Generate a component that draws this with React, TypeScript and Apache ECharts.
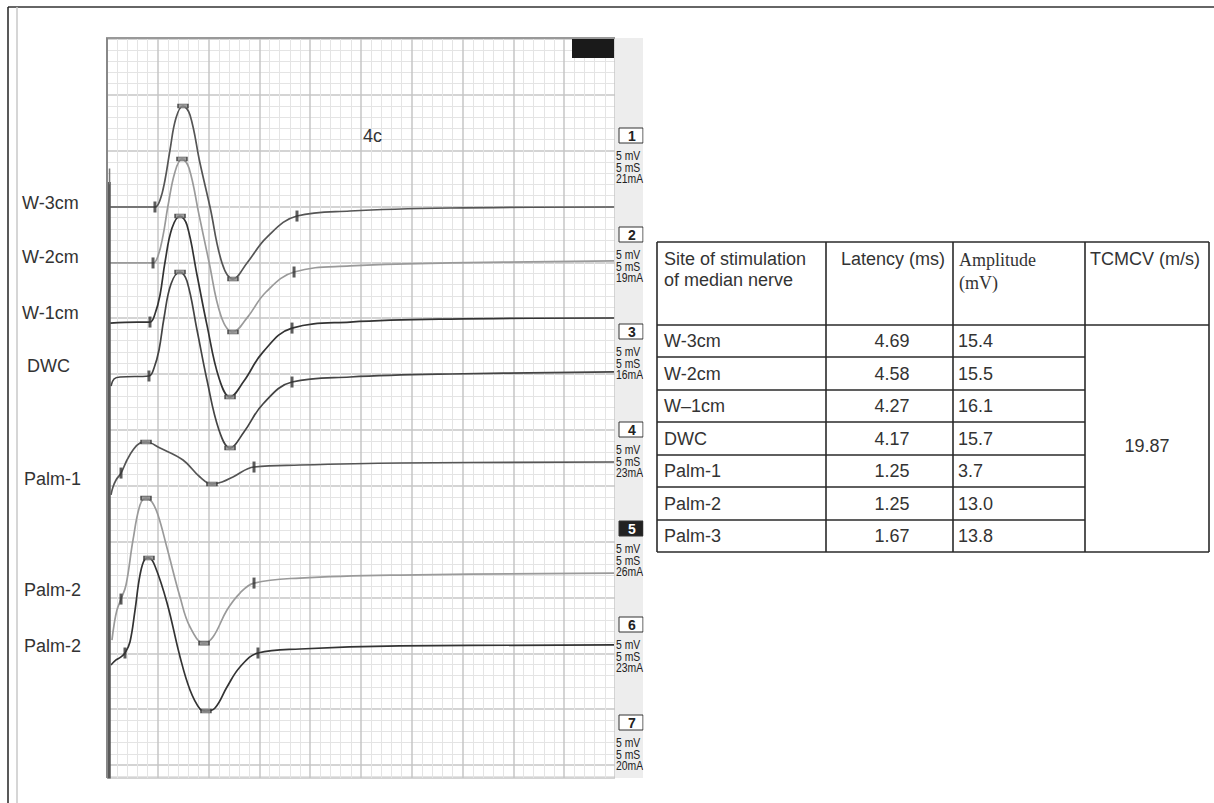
import React, { useEffect, useRef } from "react";
import * as echarts from "echarts";

// ---- data ----
// traces: [time ms, amplitude mV relative to the channel baseline]
const traceW3 = [[0.2,0],[3.2,0],[4.72,0],[5.22,0.63],[5.71,2.42],[6.20,5.10],[6.79,7.97],[7.48,9.04],[8.17,8.24],[9.15,3.94],[10.14,0],[11.32,-5.01],[12.40,-6.45],[13.78,-5.01],[15.75,-2.69],[18.70,-0.81],[23.92,-0.36],[33.76,-0.09],[49.9,0]];
const traceW2 = [[0.2,0],[3.2,0],[4.53,0],[5.02,0.63],[5.51,2.42],[6.00,5.10],[6.69,8.15],[7.38,9.31],[8.07,8.50],[9.06,4.30],[10.04,0.09],[11.22,-4.74],[12.40,-6.18],[13.78,-4.92],[15.65,-2.60],[18.41,-0.81],[23.92,-0.27],[33.76,0],[49.9,0.18]];
const traceW1 = [[0.3,-0.09],[3.0,0],[4.23,0],[4.72,0.72],[5.22,2.42],[5.71,5.37],[6.40,8.41],[7.19,9.49],[7.87,8.68],[8.86,4.21],[9.84,-0.27],[11.02,-5.01],[12.11,-6.71],[13.48,-5.28],[15.35,-2.69],[18.21,-0.54],[23.92,0],[33.76,0.27],[49.9,0.36]];
const traceDWC = [[0.39,-0.90],[0.69,-0.27],[1.28,-0.09],[4.13,0],[4.63,0.72],[5.12,2.33],[5.61,5.19],[6.30,8.24],[7.19,9.31],[7.87,8.50],[8.86,4.12],[9.84,-0.36],[11.02,-4.83],[12.11,-6.45],[13.48,-5.01],[15.35,-2.51],[18.21,-0.54],[23.92,-0.09],[33.76,0.18],[49.9,0.36]];
const tracePalm1 = [[0.39,-2.95],[0.59,-2.24],[0.89,-1.61],[1.38,-0.99],[1.97,0.18],[2.56,1.07],[3.25,1.70],[3.84,1.79],[5.22,1.25],[7.48,0.18],[9.15,-1.34],[10.33,-1.97],[11.32,-1.79],[12.40,-1.34],[14.47,-0.45],[19.00,-0.27],[28.84,-0.09],[49.9,0]];
const tracePalm2a = [[0.49,-6.00],[0.69,-4.66],[0.98,-3.31],[1.38,-2.33],[1.87,-1.07],[2.56,2.96],[3.25,6.09],[3.84,6.71],[4.43,6.36],[5.02,5.19],[5.91,2.24],[7.19,-2.15],[8.17,-4.83],[9.55,-6.27],[10.43,-5.73],[11.81,-3.31],[13.09,-1.79],[14.47,-0.90],[19.00,-0.45],[28.84,-0.18],[49.9,0]];
const tracePalm2b = [[0.39,-1.79],[0.89,-1.34],[1.38,-1.07],[1.77,-0.72],[2.26,0.27],[2.76,3.13],[3.25,6.27],[3.74,7.70],[4.13,7.79],[4.72,7.07],[5.91,3.76],[7.19,-1.07],[8.17,-4.03],[9.15,-5.73],[9.74,-5.91],[10.63,-5.64],[11.81,-3.76],[13.09,-1.97],[14.86,-0.72],[19.00,-0.36],[28.84,-0.09],[49.9,0]];

const traces = [traceW3, traceW2, traceW1, traceDWC, tracePalm1, tracePalm2a, tracePalm2b];
// indices of onset, negative peak (up), positive peak (down), end markers in each trace
const markerIdx = [[2,7,12,15],[2,7,12,15],[2,7,12,15],[3,8,13,16],[3,7,11,14],[3,7,13,17],[3,8,14,18]];
// channel baseline, mV below the top of the screen (5 mV/div)
const baselines = [15.04, 20.05, 25.34, 30.17, 37.87, 47.81, 54.25];
const traceLabels = ["W-3cm", "W-2cm", "W-1cm", "DWC", "Palm-1", "Palm-2", "Palm-2"];
const channelNums = ["1", "2", "3", "4", "5", "6", "7"];
const channelCurrents = [21, 19, 16, 23, 26, 23, 20];
const activeChannel = 4;
const stimArtifact = [[0.2, 12.8], [0.2, 66.2]];
const stimArtifactThin = [[0.25, 11.6], [0.25, 13.0]];

// table
const tableHeader = ["Site of stimulation\nof median nerve", "Latency (ms)", "Amplitude\n(mV)", "TCMCV (m/s)"];
const sites = ["W-3cm", "W-2cm", "W–1cm", "DWC", "Palm-1", "Palm-2", "Palm-3"];
const latencies = ["4.69", "4.58", "4.27", "4.17", "1.25", "1.25", "1.67"];
const amplitudes = ["15.4", "15.5", "16.1", "15.7", "3.7", "13.0", "13.8"];
const tcmcv = "19.87";

// ---- layout ----
const traceColors = ["#555", "#9a9a9a", "#333", "#444", "#555", "#9a9a9a", "#333"];
const labelX = [22, 22, 22, 27, 24, 24, 24];
const labelY = [203, 257, 313, 366, 479, 590, 646];
const boxTops = [128, 227, 324, 422, 521, 617, 715];
const SANS = "'Liberation Sans', Arial, sans-serif";
const SERIF = "'Liberation Serif', 'Times New Roman', serif";

function buildGraphic() {
  const g: any[] = [];
  const line = (x1: number, y1: number, x2: number, y2: number, stroke: string, lw: number, z = 10) =>
    g.push({ type: "line", z, shape: { x1, y1, x2, y2 }, style: { stroke, lineWidth: lw } });
  const text = (x: number, y: number, t: string, opts: any = {}, z = 11) => {
    const el: any = {
      type: "text", z, x, y,
      style: {
        text: t, fill: opts.fill || "#333", fontSize: opts.size || 18, fontFamily: opts.family || SANS,
        fontWeight: opts.weight || "normal", align: opts.align || "left", verticalAlign: opts.va || "middle",
        lineHeight: opts.lh || Math.round((opts.size || 18) * 1.15),
      },
    };
    if (opts.scaleX) el.scaleX = opts.scaleX;
    g.push(el);
    return el;
  };

  // outer frame
  line(8, 7, 1214, 7, "#666", 2);
  line(8, 7, 8, 803, "#222", 1.5);
  line(17, 7, 17, 803, "#c8c8c8", 1.5);

  // channel panel
  g.push({ type: "rect", z: 1, shape: { x: 615, y: 38, width: 28, height: 740 }, style: { fill: "#ededed" } });
  // plot border
  line(106, 38, 615, 38, "#999", 2);
  line(107, 38, 107, 778, "#888", 2);
  // black rect top-right
  g.push({ type: "rect", z: 10, shape: { x: 572, y: 39, width: 42, height: 19 }, style: { fill: "#1a1a1a" } });

  // "4c"
  text(363, 136, "4c", { size: 18 });

  // left labels
  traceLabels.forEach((t, i) => text(labelX[i], labelY[i], t, { size: 18 }));

  // channel boxes
  channelNums.forEach((n, i) => {
    const top = boxTops[i];
    const active = i === activeChannel;
    g.push({
      type: "rect", z: 10, shape: { x: 619, y: top, width: 24, height: 15 },
      style: { fill: active ? "#222" : "#fff", stroke: "#333", lineWidth: 1 },
    });
    text(632, top + 8, n, { size: 14, weight: "bold", align: "center", fill: active ? "#fff" : "#222", lh: 14 });
    const small = { size: 13, fill: "#222", lh: 11, scaleX: 0.8 };
    text(616, top + 27, "5 mV", small);
    text(616, top + 39, "5 mS", small);
    text(616, top + 50, channelCurrents[i] + "mA", small);
  });
  // clip channel text at the panel edge
  g.push({ type: "rect", z: 12, shape: { x: 643.5, y: 100, width: 10, height: 690 }, style: { fill: "#fff" } });

  // table
  const colX = [657, 826, 953, 1085, 1209];
  const rowY = [242, 325, 357, 390, 422, 455, 487, 520, 552];
  const tc = "#2a2a2a";
  const tw = 1.6;
  line(colX[0], rowY[0], colX[4], rowY[0], tc, tw);
  line(colX[0], rowY[1], colX[4], rowY[1], tc, tw);
  for (let r = 2; r < rowY.length - 1; r++) line(colX[0], rowY[r], colX[3], rowY[r], tc, tw);
  line(colX[0], rowY[8], colX[4], rowY[8], tc, tw);
  colX.forEach((x) => line(x, rowY[0], x, rowY[8], tc, tw));

  text(664, 248, tableHeader[0], { size: 18, va: "top", lh: 21 });
  text(893, 259, tableHeader[1], { size: 18, align: "center" });
  text(959, 248, tableHeader[2], { size: 18, family: SERIF, va: "top", lh: 23 });
  text(1090, 259, tableHeader[3], { size: 18 });

  sites.forEach((s, i) => {
    const cy = (rowY[i + 1] + rowY[i + 2]) / 2;
    text(664, cy, s, { size: 18 });
    text(892, cy, latencies[i], { size: 18, align: "center" });
    text(958, cy, amplitudes[i], { size: 18 });
  });
  text(1147, 446, tcmcv, { size: 18, align: "center" });
  return g;
}

export default function App() {
  const ref = useRef<HTMLDivElement>(null);
  useEffect(() => {
    if (!ref.current) return;
    const chart = echarts.init(ref.current, undefined, { renderer: "svg" });
    const series: any[] = [];
    traces.forEach((tr, i) => {
      const pts = tr.map(([t, v]) => [t, baselines[i] - v]);
      series.push({
        type: "line", name: traceLabels[i], data: pts, smooth: 0.4,
        showSymbol: false, symbol: "none", z: 3,
        lineStyle: { color: traceColors[i], width: 1.7 },
      });
      const [on, pk, tr2, end] = markerIdx[i];
      const vert = [on, end].map((k) => pts[k]);
      const horiz = [pk, tr2].map((k) => pts[k]);
      series.push({
        type: "scatter", data: vert, symbol: "rect", symbolSize: [3, 11], z: 5,
        itemStyle: { color: "#333" },
      });
      series.push({
        type: "scatter", data: horiz, symbol: "rect", symbolSize: [10, 4], z: 5,
        itemStyle: { color: "#888", borderColor: "#333", borderWidth: 1 },
      });
    });
    series.push({
      type: "line", data: stimArtifact, showSymbol: false, symbol: "none", z: 4,
      lineStyle: { color: "#5a5a5a", width: 3.5 },
    });
    series.push({
      type: "line", data: stimArtifactThin, showSymbol: false, symbol: "none", z: 4,
      lineStyle: { color: "#777", width: 1.5 },
    });

    const axisCommon = {
      type: "value",
      axisLabel: { show: false },
      axisTick: { show: false },
      axisLine: { show: false },
      splitLine: { show: true, lineStyle: { color: "#c6c6c6", width: 1.5 } },
      minorTick: { show: false, splitNumber: 5 },
      minorSplitLine: { show: true, lineStyle: { color: "#e4e4e4", width: 1 } },
    };
    chart.setOption({
      animation: false,
      backgroundColor: "#fff",
      grid: { left: 107, top: 39, width: 508, height: 739, containLabel: false },
      xAxis: { ...axisCommon, min: 0, max: 50, interval: 5 },
      yAxis: { ...axisCommon, inverse: true, min: 0, max: 66.16, interval: 5 },
      series,
      graphic: { elements: buildGraphic() },
    });
    return () => chart.dispose();
  }, []);
  return <div ref={ref} style={{ position: "absolute", left: 0, top: 0, width: 1214, height: 803 }} />;
}
